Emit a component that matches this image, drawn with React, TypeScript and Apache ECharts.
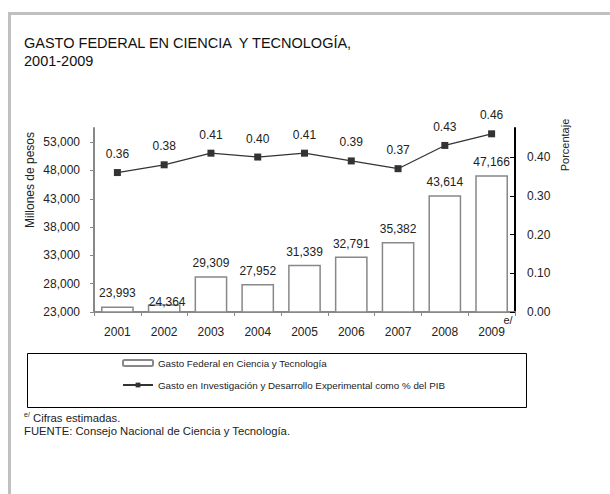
import React, { useEffect, useRef } from "react";
import * as echarts from "echarts";

const years = ["2001", "2002", "2003", "2004", "2005", "2006", "2007", "2008", "2009"];
const gastoFederal = [23993, 24364, 29309, 27952, 31339, 32791, 35382, 43614, 47166];
const gidePib = [0.36, 0.38, 0.41, 0.4, 0.41, 0.39, 0.37, 0.43, 0.46];
const leftTicks = [23000, 28000, 33000, 38000, 43000, 48000, 53000];
const rightTicks = [0, 0.1, 0.2, 0.3, 0.4];

const serieBarras = "Gasto Federal en Ciencia y Tecnología";
const serieLinea = "Gasto en Investigación y Desarrollo Experimental como % del PIB";

const FONT = "'Liberation Sans', Arial, sans-serif";
const TXT = "#222";

export default function App() {
  const ref = useRef<HTMLDivElement>(null);
  useEffect(() => {
    if (!ref.current) return;
    const chart = echarts.init(ref.current, undefined, { renderer: "svg" });
    const fmt = (v: number) => v.toLocaleString("en-US");
    chart.setOption({
      animation: false,
      backgroundColor: "#fff",
      textStyle: { fontFamily: FONT },
      grid: { left: 94, right: 95, top: 128, bottom: 182, containLabel: false },
      legend: {
        orient: "vertical",
        left: 117,
        top: 356,
        padding: [2, 5],
        itemWidth: 30,
        itemHeight: 6,
        itemGap: 12,
        textStyle: { fontFamily: FONT, fontSize: 9.8, color: TXT },
        data: [serieBarras, serieLinea],
      },
      xAxis: {
        type: "category",
        data: years,
        boundaryGap: true,
        axisLine: { lineStyle: { color: "#888", width: 2 } },
        axisTick: { show: true, interval: 0, length: 4, lineStyle: { color: "#888" } },
        axisLabel: { margin: 14, fontSize: 12, color: TXT, fontFamily: FONT },
        splitLine: { show: false },
      },
      yAxis: [
        {
          type: "value",
          min: 23000,
          max: 55500,
          interval: 5000,
          axisLine: { show: true, lineStyle: { color: "#888", width: 2 } },
          axisTick: { show: true, length: 4, customValues: leftTicks, lineStyle: { color: "#888" } },
          axisLabel: {
            customValues: leftTicks,
            margin: 14,
            fontSize: 12,
            color: TXT,
            fontFamily: FONT,
            formatter: (v: number) => fmt(v),
          },
          splitLine: { show: false },
        },
        {
          type: "value",
          min: 0,
          max: 0.475,
          interval: 0.1,
          position: "right",
          axisLine: { show: true, lineStyle: { color: "#000", width: 2 } },
          axisTick: { show: true, inside: true, length: 5, customValues: rightTicks, lineStyle: { color: "#000" } },
          axisLabel: {
            customValues: rightTicks,
            margin: 12,
            fontSize: 12,
            color: TXT,
            fontFamily: FONT,
            formatter: (v: number) => v.toFixed(2),
          },
          splitLine: { show: false },
        },
      ],
      series: [
        {
          name: serieBarras,
          type: "bar",
          yAxisIndex: 0,
          barWidth: "70%",
          data: gastoFederal.map((v, i) => (i === 1 ? { value: v, label: { offset: [3, 11] } } : v)),
          itemStyle: { color: "#fff", borderColor: "#888", borderWidth: 1.5 },
          label: {
            show: true,
            position: "top",
            distance: 7,
            fontSize: 12,
            color: TXT,
            fontFamily: FONT,
            formatter: (p: any) => fmt(p.value),
          },
        },
        {
          name: serieLinea,
          type: "line",
          yAxisIndex: 1,
          data: gidePib,
          symbol: "rect",
          symbolSize: 7,
          itemStyle: { color: "#333" },
          lineStyle: { color: "#333", width: 1.2 },
          label: {
            show: true,
            position: "top",
            distance: 9,
            fontSize: 12,
            color: TXT,
            fontFamily: FONT,
            formatter: (p: any) => p.value.toFixed(2),
          },
        },
      ],
      graphic: [
        { type: "rect", shape: { x: 8, y: 12, width: 602, height: 3 }, style: { fill: "#c0c0c0" }, silent: true },
        { type: "rect", shape: { x: 8, y: 12, width: 3, height: 482 }, style: { fill: "#c0c0c0" }, silent: true },
        {
          type: "text",
          style: { x: 24, y: 43, text: "GASTO FEDERAL EN CIENCIA  Y TECNOLOGÍA,", fontSize: 14.5, fontFamily: FONT, fill: "#111", verticalAlign: "middle" },
        },
        {
          type: "text",
          style: { x: 24, y: 61, text: "2001-2009", fontSize: 14.5, fontFamily: FONT, fill: "#111", verticalAlign: "middle" },
        },
        {
          type: "text",
          x: 30,
          y: 180,
          rotation: Math.PI / 2,
          style: { x: 0, y: 0, text: "Millones de pesos", fontSize: 12, fontFamily: FONT, fill: TXT, align: "center", verticalAlign: "middle" },
        },
        {
          type: "text",
          x: 565,
          y: 145,
          rotation: Math.PI / 2,
          style: { x: 0, y: 0, text: "Porcentaje", fontSize: 11, fontFamily: FONT, fill: TXT, align: "center", verticalAlign: "middle" },
        },
        {
          type: "text",
          style: { x: 508, y: 320, text: "e/", fontSize: 11, fontFamily: FONT, fill: TXT, align: "center", verticalAlign: "middle" },
        },
        {
          type: "rect",
          shape: { x: 27.5, y: 353.5, width: 499, height: 54 },
          style: { fill: "none", stroke: "#000", lineWidth: 1 },
          silent: true,
        },
        {
          type: "text",
          style: { x: 24, y: 414, text: "e/", fontSize: 7, fontFamily: FONT, fill: TXT, verticalAlign: "middle" },
        },
        {
          type: "text",
          style: { x: 33, y: 418, text: "Cifras estimadas.", fontSize: 11.3, fontFamily: FONT, fill: TXT, verticalAlign: "middle" },
        },
        {
          type: "text",
          style: { x: 24, y: 431, text: "FUENTE: Consejo Nacional de Ciencia y Tecnología.", fontSize: 11.3, fontFamily: FONT, fill: TXT, verticalAlign: "middle" },
        },
      ],
    });
    return () => chart.dispose();
  }, []);
  return (
    <div
      ref={ref}
      style={{ position: "fixed", left: 0, top: 0, width: 610, height: 494, background: "#fff" }}
    />
  );
}
